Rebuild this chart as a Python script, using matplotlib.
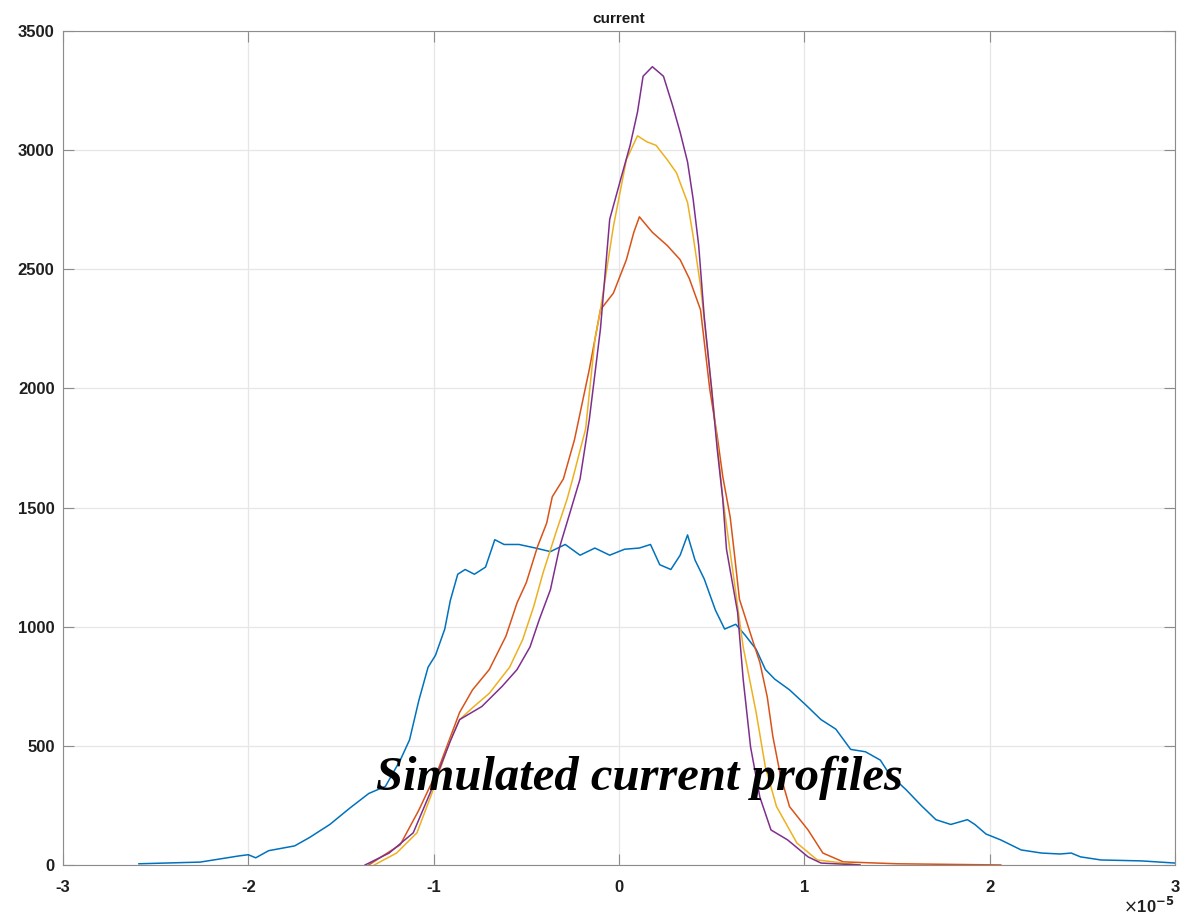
import numpy as np
import matplotlib
matplotlib.use("Agg")
import matplotlib.pyplot as plt
from matplotlib.ticker import FuncFormatter

# x positions in units of 1e-5, current values
blue_x = [-2.59, -2.26, -2.05, -2.0, -1.96, -1.89, -1.75, -1.67, -1.56, -1.45, -1.35, -1.26,
          -1.18, -1.13, -1.08, -1.03, -0.99, -0.94, -0.91, -0.87, -0.83, -0.78, -0.72, -0.67,
          -0.62, -0.54, -0.45, -0.37, -0.29, -0.21, -0.13, -0.05, 0.03, 0.11, 0.17, 0.22,
          0.28, 0.33, 0.37, 0.41, 0.46, 0.52, 0.57, 0.63, 0.68, 0.74, 0.79, 0.84, 0.92,
          1.01, 1.09, 1.17, 1.25, 1.33, 1.41, 1.46, 1.55, 1.63, 1.71, 1.79, 1.88, 1.92,
          1.98, 2.06, 2.17, 2.28, 2.38, 2.44, 2.49, 2.6, 2.82, 3.0]
blue_y = [5, 12, 38, 43, 30, 60, 80, 115, 170, 240, 300, 330,
          440, 525, 690, 830, 880, 990, 1110, 1220, 1240, 1220, 1250, 1365,
          1345, 1345, 1330, 1315, 1345, 1300, 1330, 1300, 1325, 1330, 1345, 1260,
          1240, 1300, 1385, 1280, 1200, 1070, 990, 1010, 965, 905, 820, 780, 735,
          670, 610, 570, 485, 475, 440, 380, 315, 250, 190, 170, 190, 170,
          130, 105, 63, 50, 46, 50, 34, 21, 17, 8]

orange_x = [-1.35, -1.18, -1.08, -0.97, -0.86, -0.79, -0.70, -0.61, -0.55, -0.50, -0.44,
            -0.39, -0.36, -0.30, -0.24, -0.16, -0.10, -0.03, 0.04, 0.08, 0.11, 0.18, 0.26,
            0.33, 0.38, 0.44, 0.49, 0.53, 0.56, 0.60, 0.62, 0.65, 0.72, 0.76, 0.80, 0.83,
            0.87, 0.92, 1.02, 1.10, 1.21, 1.5, 2.06]
orange_y = [0, 85, 230, 412, 640, 735, 820, 960, 1100, 1185, 1335,
            1435, 1545, 1620, 1785, 2080, 2330, 2400, 2540, 2655, 2720, 2655, 2600,
            2540, 2460, 2330, 1995, 1800, 1630, 1460, 1325, 1115, 945, 850, 705, 540,
            380, 245, 147, 50, 13, 5, 0]

yellow_x = [-1.32, -1.20, -1.09, -1.01, -0.91, -0.86, -0.79, -0.70, -0.59, -0.52, -0.46,
            -0.41, -0.34, -0.28, -0.25, -0.18, -0.13, -0.10, -0.03, 0.04, 0.10, 0.15, 0.20,
            0.26, 0.31, 0.37, 0.40, 0.44, 0.50, 0.56, 0.62, 0.67, 0.74, 0.79, 0.85, 0.96,
            1.07, 1.3]
yellow_y = [0, 50, 135, 300, 525, 610, 660, 720, 830, 945, 1085,
            1225, 1395, 1535, 1620, 1830, 2205, 2330, 2680, 2960, 3060, 3035, 3020,
            2960, 2905, 2780, 2640, 2430, 2000, 1540, 1200, 915, 640, 410, 245, 92,
            21, 0]

purple_x = [-1.37, -1.24, -1.11, -1.02, -0.91, -0.86, -0.74, -0.63, -0.55, -0.48, -0.43,
            -0.37, -0.32, -0.26, -0.21, -0.16, -0.10, -0.05, 0.01, 0.06, 0.10, 0.13, 0.18,
            0.24, 0.29, 0.33, 0.37, 0.40, 0.43, 0.46, 0.50, 0.53, 0.56, 0.58, 0.64, 0.67,
            0.71, 0.76, 0.82, 0.91, 1.02, 1.09, 1.3]
purple_y = [0, 50, 135, 300, 520, 610, 665, 750, 820, 915, 1030,
            1155, 1335, 1490, 1620, 1870, 2250, 2710, 2880, 3020, 3160, 3310, 3350,
            3310, 3185, 3075, 2950, 2795, 2600, 2300, 1995, 1745, 1535, 1325, 1060, 780,
            495, 285, 147, 105, 34, 8, 0]

scale = 1e-5
colors = ["#0072BD", "#D95319", "#EDB120", "#7E2F8E"]

plt.rcParams['axes.unicode_minus'] = False
plt.rcParams['font.family'] = ['Liberation Sans', 'DejaVu Sans']

fig = plt.figure(figsize=(11.99, 9.19), dpi=100)
ax = fig.add_axes([0.0525, 0.0588, 0.9275, 0.9075])

for xs, ys, c in [(blue_x, blue_y, colors[0]), (orange_x, orange_y, colors[1]),
                  (yellow_x, yellow_y, colors[2]), (purple_x, purple_y, colors[3])]:
    ax.plot(np.array(xs) * scale, ys, color=c, lw=1.1)

ax.set_xlim(-3e-5, 3e-5)
ax.set_ylim(0, 3500)
ax.set_xticks(np.arange(-3, 4) * scale)
ax.set_yticks(np.arange(0, 3501, 500))
ax.xaxis.set_major_formatter(FuncFormatter(lambda v, p: "%d" % round(v / scale)))

ax.grid(True, color='#e6e6e6', lw=0.9)
ax.set_axisbelow(True)
for s in ax.spines.values():
    s.set_color('#8c8c8c')
ax.tick_params(direction='in', top=True, right=True, length=8, color='#8c8c8c',
               labelsize=12, labelcolor='#1f1f1f')
ax.tick_params(axis='x', pad=11)
ax.tick_params(axis='y', pad=6)
for lab in ax.get_xticklabels() + ax.get_yticklabels():
    lab.set_fontweight('bold')

# exponent label below the right end of the x axis
ax.text(1.0, -0.058, r"$\times$10$^{\mathbf{-5}}$", transform=ax.transAxes, ha='right',
        va='baseline', fontsize=12, fontweight='bold', color='#1f1f1f')

ax.set_title("current", fontsize=11, fontweight='bold', color='#1a1a1a', pad=6)

ax.text(0.11e-5, 365, "Simulated current profiles", fontsize=35, fontweight='bold',
        fontstyle='italic', family='Liberation Serif', ha='center', va='center')

fig.savefig("out.png", dpi=100)
